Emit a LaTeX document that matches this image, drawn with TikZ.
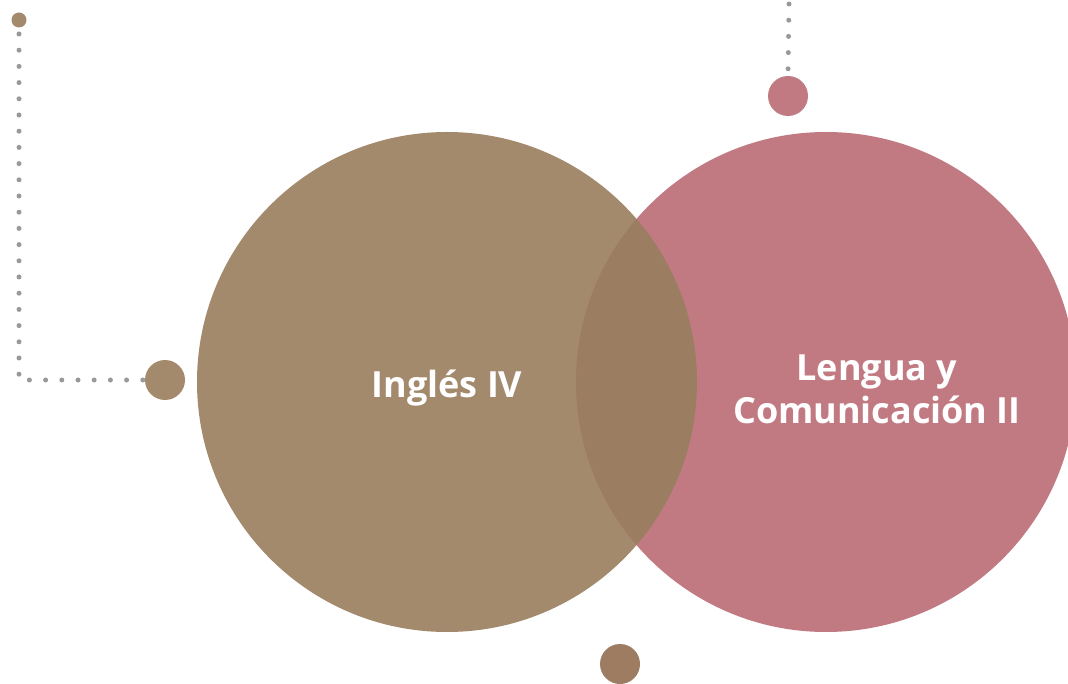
\documentclass[tikz,border=0pt]{standalone}
\usepackage{fontspec}
\setmainfont{Open Sans}
\begin{document}
\begin{tikzpicture}[x=1pt,y=-1pt,
  big/.style={circle,minimum size=500pt,inner sep=0pt},
  small/.style={circle,minimum size=40pt,inner sep=0pt},
  dotline/.style={draw=dotgray,line width=5pt,line cap=round,dash pattern=on 0pt off 16.2pt},
  lbl/.style={text=white,font=\bfseries\fontsize{36}{43}\selectfont,align=center}]
\definecolor{brownc}{HTML}{A38A6D}
\definecolor{pinkc}{HTML}{C27A82}
\definecolor{overc}{HTML}{9B7D62}
\definecolor{darkbrown}{HTML}{9D7C62}
\definecolor{dotgray}{HTML}{999999}
\useasboundingbox (0,0) rectangle (1068,684);
\begin{scope}
\clip (0,0) rectangle (1068,684);
\node[big,fill=brownc] (ing) at (447,382) {};
\node[big,fill=pinkc] (len) at (826,382) {};
\begin{scope}
\clip (447,382) circle (250);
\fill[overc] (826,382) circle (250);
\end{scope}
\node[small,fill=brownc] (lc) at (165,380) {};
\node[small,fill=pinkc] (tc) at (788,96) {};
\node[small,fill=darkbrown] (bc) at (620,664) {};
\node[circle,minimum size=15pt,inner sep=0pt,fill=brownc] (tl) at (19,20) {};
\coordinate (corner) at (19,380);
\coordinate (ttop) at (789,4);
\draw[dotline] (19,34) -- (corner) -- (lc.west);
\draw[dotline] (ttop) -- (tc.north);
\node[lbl] at (447,388) {Inglés IV};
\node[lbl] at (877,389) {Lengua y\\Comunicación II};
\end{scope}
\end{tikzpicture}
\end{document}
